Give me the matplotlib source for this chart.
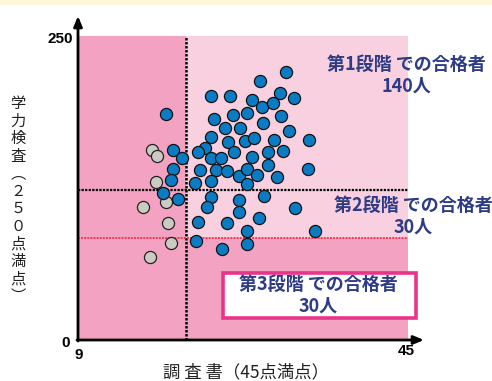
import matplotlib
matplotlib.use("Agg")
import matplotlib.pyplot as plt
from matplotlib.patches import Rectangle, FancyBboxPatch

plt.rcParams['font.family'] = ['Noto Sans CJK JP', 'DejaVu Sans']

# ---- data -------------------------------------------------------------
# applicants who passed: (report score, exam score)
passed_x = [18.6, 23.5, 25.6, 23.8, 25.9, 27.4, 25.0, 26.7, 23.5, 25.4,
            27.2, 22.9, 22.1, 26.0, 23.5, 24.6, 19.4, 20.3, 19.4, 22.3,
            24.1, 25.3, 26.6, 27.4, 19.1, 21.8, 23.5, 27.4, 31.7, 28.9,
            31.0, 32.6, 28.0, 29.1, 30.3, 31.1, 29.2, 32.0, 34.2, 28.2,
            30.4, 31.4, 29.7, 28.0, 34.1, 29.7, 28.5, 30.7, 18.3, 19.9,
            23.5, 23.1, 26.6, 26.6, 22.1, 25.3, 21.9, 24.7, 27.4, 27.4,
            29.3, 32.7, 28.7, 34.9]
passed_y = [185.9, 200.7, 200.7, 181.7, 185.0, 186.7, 174.3, 174.3, 166.9, 162.8,
            163.7, 157.9, 154.6, 154.6, 149.7, 149.7, 156.3, 149.7, 140.6, 139.8,
            139.8, 139.0, 134.9, 140.6, 131.6, 129.1, 130.8, 128.3, 220.4, 213.0,
            203.1, 199.0, 197.4, 191.6, 194.9, 184.2, 178.5, 171.9, 164.5, 166.1,
            164.5, 155.4, 154.6, 150.5, 140.6, 143.9, 135.7, 134.0, 120.9, 116.0,
            117.6, 109.4, 115.1, 105.3, 97.0, 96.2, 81.4, 74.8, 89.6, 78.9,
            118.4, 108.6, 100.3, 89.6]
# applicants who did not pass
failed_x = [17.1, 17.6, 17.5, 18.6, 16.1, 18.8, 19.1, 16.9]
failed_y = [156.3, 151.3, 129.9, 113.5, 109.4, 96.2, 79.8, 68.3]

x_min, x_max = 9, 45
y_min, y_max = 0, 250
report_cut = 20.8     # report score line
stage1_cut = 123.4    # exam score line, stage 1
stage3_cut = 84.0     # exam score line, stage 3

x_tick_labels = ["9", "45"]
y_tick_labels = ["0", "250"]
stage_labels = ["第1段階 での合格者\n140人",
                "第2段階 での合格者\n30人",
                "第3段階 での合格者\n30人"]
y_title = "学力検査（２５０点満点）"
x_title = "調 査 書（45点満点）"

# ---- style ------------------------------------------------------------
W, H = 492, 381
DARK_PINK = "#F3A2C2"
LIGHT_PINK = "#F9D0DF"
BLUE = "#0A7CC4"
GREY = "#CBCBC3"
NAVY = "#2E3C86"
MAGENTA = "#E8358A"
RED = "#EE3A55"


def fx(px):
    return px / W


def fy(py):
    return 1 - py / H


fig = plt.figure(figsize=(W / 100, H / 100), dpi=100)
fig.patch.set_facecolor("white")

# pale band across the top
fig.patches.append(Rectangle((0, fy(5)), 1, 1 - fy(5), transform=fig.transFigure,
                             facecolor="#FFF8DA", edgecolor="none", zorder=0))

ax = fig.add_axes([fx(78), fy(340), fx(408) - fx(78), fy(36) - fy(340)])
ax.set_xlim(x_min, x_max)
ax.set_ylim(y_min, y_max)
ax.set_facecolor(DARK_PINK)
for s in ax.spines.values():
    s.set_visible(False)
ax.set_xticks([])
ax.set_yticks([])

# light zone: above stage-3 line and right of the report line
ax.add_patch(Rectangle((report_cut, stage3_cut), x_max - report_cut, y_max - stage3_cut,
                       facecolor=LIGHT_PINK, edgecolor="none", zorder=0))

# threshold lines
ax.axvline(report_cut, color="black", lw=1.8, ls=(0, (1, 0.6)), zorder=1)
ax.axhline(stage1_cut, color="black", lw=1.6, ls=(0, (1, 0.6)), zorder=1)
ax.axhline(stage3_cut, color=RED, lw=1.4, ls=(0, (1, 0.6)), zorder=1)

# points
ax.scatter(failed_x, failed_y, s=76, c=GREY, edgecolors="#222222", linewidths=0.9, zorder=3)
ax.scatter(passed_x, passed_y, s=76, c=BLUE, edgecolors="#111111", linewidths=0.9, zorder=3)

# axes with arrowheads
ax.annotate("", xy=(fx(78), fy(16)), xytext=(fx(78), fy(341)), xycoords=fig.transFigure,
            arrowprops=dict(arrowstyle="-|>,head_length=0.6,head_width=0.25",
                            color="black", lw=2, shrinkA=0, shrinkB=0))
ax.annotate("", xy=(fx(424), fy(340)), xytext=(fx(77), fy(340)), xycoords=fig.transFigure,
            arrowprops=dict(arrowstyle="-|>,head_length=0.6,head_width=0.25",
                            color="black", lw=2, shrinkA=0, shrinkB=0))

# tick labels
tick_font = dict(family="Liberation Sans", fontweight="bold", fontsize=11, color="black",
                 ha="center", va="center", transform=fig.transFigure)
ax.text(fx(60), fy(39), y_tick_labels[1], **tick_font)
ax.text(fx(66), fy(343), y_tick_labels[0], **tick_font)
ax.text(fx(79), fy(355), x_tick_labels[0], **tick_font)
ax.text(fx(406), fy(351), x_tick_labels[1], **tick_font)

# axis titles
fig.text(fx(18), fy(200), "\n".join(y_title.replace("（", "︵").replace("）", "︶")),
         ha="center", va="center", fontsize=11, linespacing=1.04, color="#222222")
fig.text(fx(246), fy(372), x_title, ha="center", va="center", fontsize=12.5, color="#222222")

# stage annotations
lab_font = dict(fontsize=13, fontweight="bold", color=NAVY, ha="center", va="center",
                linespacing=1.2)
fig.text(fx(406), fy(75), stage_labels[0], **lab_font)
fig.text(fx(413), fy(216), stage_labels[1], **lab_font)

box = FancyBboxPatch((fx(223), fy(318)), fx(416) - fx(223), fy(273) - fy(318),
                     boxstyle="square,pad=0", transform=fig.transFigure,
                     facecolor="white", edgecolor=MAGENTA, lw=2.6, zorder=5)
fig.patches.append(box)
fig.text(fx(318), fy(295), stage_labels[2], zorder=6, **lab_font)

fig.savefig("out.png", dpi=100)
